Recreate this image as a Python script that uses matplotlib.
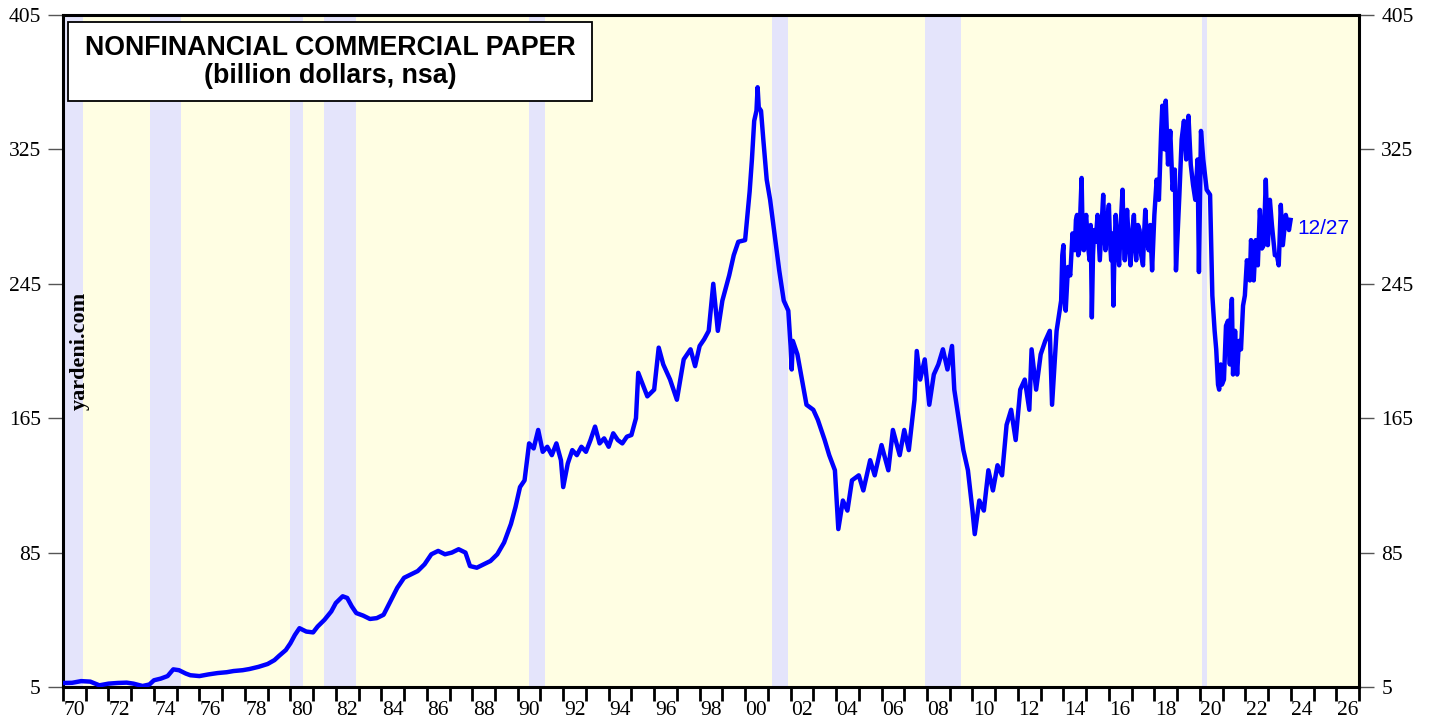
import numpy as np
import matplotlib.pyplot as plt
from matplotlib.patches import Rectangle

# nonfinancial commercial paper, billion dollars
years = [1970.05, 1970.4, 1970.8, 1971.2, 1971.6, 1972.0, 1972.4, 1972.8, 1973.1, 1973.5,
         1973.8, 1974.0, 1974.3, 1974.6, 1974.85, 1975.1, 1975.4, 1975.6, 1976.0, 1976.4,
         1976.8, 1977.2, 1977.5, 1977.9, 1978.2, 1978.6, 1979.0, 1979.3, 1979.5, 1979.8,
         1980.0, 1980.2, 1980.4, 1980.7, 1981.0, 1981.2, 1981.5, 1981.8, 1982.0, 1982.3,
         1982.5, 1982.7, 1982.9, 1983.2, 1983.5, 1983.8, 1984.1, 1984.4, 1984.7, 1985.0,
         1985.3, 1985.6, 1985.9, 1986.2, 1986.5, 1986.8, 1987.1, 1987.4, 1987.7, 1987.9,
         1988.2, 1988.5, 1988.8, 1989.1, 1989.4, 1989.7, 1989.9, 1990.1, 1990.3, 1990.5,
         1990.7, 1990.9, 1991.1, 1991.3, 1991.5, 1991.7, 1991.9, 1992.0, 1992.2, 1992.4,
         1992.6, 1992.8, 1993.0, 1993.2, 1993.4, 1993.6, 1993.8, 1994.0, 1994.2, 1994.4,
         1994.6, 1994.8, 1995.0, 1995.2, 1995.3, 1995.5, 1995.7, 1996.0, 1996.2, 1996.4,
         1996.7, 1997.0, 1997.3, 1997.6, 1997.8, 1998.0, 1998.2, 1998.4, 1998.6, 1998.8,
         1999.0, 1999.3, 1999.5, 1999.7, 2000.0, 2000.2, 2000.3, 2000.4, 2000.5, 2000.55,
         2000.6, 2000.7, 2000.8, 2000.95, 2001.1, 2001.3, 2001.5, 2001.7, 2001.9, 2002.0,
         2002.05, 2002.1, 2002.3, 2002.5, 2002.7, 2003.0, 2003.2, 2003.5, 2003.7, 2003.95,
         2004.1, 2004.3, 2004.5, 2004.7, 2005.0, 2005.2, 2005.5, 2005.7, 2006.0, 2006.3,
         2006.5, 2006.8, 2007.0, 2007.2, 2007.45, 2007.55, 2007.7, 2007.9, 2008.1, 2008.3,
         2008.5, 2008.7, 2008.9, 2009.1, 2009.2, 2009.4, 2009.6, 2009.8, 2010.0, 2010.1,
         2010.3, 2010.5, 2010.7, 2010.9, 2011.1, 2011.3, 2011.5, 2011.7, 2011.9, 2012.1,
         2012.3, 2012.5, 2012.6, 2012.8, 2013.0, 2013.2, 2013.4, 2013.5, 2013.7, 2013.9,
         2013.95, 2014.0, 2014.05, 2014.1, 2014.2, 2014.3, 2014.4, 2014.5, 2014.55, 2014.6,
         2014.65, 2014.7, 2014.75, 2014.8, 2014.85, 2014.9, 2014.95, 2015.0, 2015.08, 2015.15,
         2015.2, 2015.25, 2015.3, 2015.35, 2015.42, 2015.5, 2015.55, 2015.6, 2015.68, 2015.75,
         2015.8, 2015.85, 2015.92, 2016.0, 2016.05, 2016.1, 2016.15, 2016.2, 2016.25, 2016.3,
         2016.38, 2016.45, 2016.52, 2016.6, 2016.65, 2016.7, 2016.75, 2016.8, 2016.88, 2016.95,
         2017.02, 2017.1, 2017.15, 2017.2, 2017.28, 2017.35, 2017.42, 2017.5, 2017.55, 2017.6,
         2017.68, 2017.75, 2017.82, 2017.9, 2017.95, 2018.0, 2018.1, 2018.2, 2018.3, 2018.35,
         2018.45, 2018.5, 2018.6, 2018.7, 2018.8, 2018.9, 2018.95, 2019.1, 2019.2, 2019.3,
         2019.4, 2019.5, 2019.6, 2019.7, 2019.8, 2019.9, 2019.96, 2020.05, 2020.15, 2020.3,
         2020.45, 2020.55, 2020.65, 2020.72, 2020.8, 2020.85, 2020.92, 2020.97, 2021.06, 2021.15,
         2021.24, 2021.32, 2021.37, 2021.41, 2021.46, 2021.55, 2021.64, 2021.72, 2021.81, 2021.9,
         2021.98, 2022.07, 2022.2, 2022.25, 2022.33, 2022.37, 2022.46, 2022.55, 2022.64, 2022.73,
         2022.81, 2022.9, 2022.99, 2023.08, 2023.17, 2023.3, 2023.39, 2023.47, 2023.56, 2023.65,
         2023.78, 2023.92, 2023.99]
values = [7.4, 7.5, 8.5, 8.2, 6.0, 7.0, 7.4, 7.6, 7.0, 5.6,
          6.5, 9.0, 10.0, 11.5, 15.5, 15.0, 13.0, 12.0, 11.5, 12.5,
          13.3, 13.8, 14.5, 15.0, 15.7, 17.0, 18.7, 21.0, 23.5, 27.0,
          31.0, 36.0, 40.0, 38.0, 37.5, 41.0, 45.0, 50.0, 55.0, 59.0,
          58.0, 53.0, 49.0, 47.5, 45.5, 46.0, 48.0, 56.0, 64.0, 70.0,
          72.0, 74.0, 78.0, 84.0, 86.0, 84.0, 85.0, 87.0, 85.0, 77.0,
          76.0, 78.0, 80.0, 84.0, 91.0, 102.0, 112.0, 124.0, 128.0, 150.0,
          147.0, 158.0, 145.0, 148.0, 143.0, 150.0, 140.0, 124.0, 138.0, 146.0,
          143.0, 148.0, 145.0, 152.0, 160.0, 150.0, 153.0, 148.0, 156.0, 152.0,
          150.0, 154.0, 155.0, 165.0, 192.0, 185.0, 178.0, 182.0, 207.0, 197.0,
          188.0, 176.0, 200.0, 206.0, 196.0, 208.0, 212.0, 217.0, 245.0, 217.0,
          235.0, 250.0, 262.0, 270.0, 271.0, 300.0, 319.0, 342.0, 348.0, 362.0,
          350.0, 348.0, 331.0, 307.0, 295.0, 274.0, 253.0, 235.0, 229.0, 208.0,
          194.0, 211.0, 203.0, 188.0, 173.0, 170.0, 164.0, 152.0, 143.0, 134.0,
          99.0, 116.0, 110.0, 128.0, 131.0, 122.0, 140.0, 131.0, 149.0, 134.0,
          158.0, 143.0, 158.0, 146.0, 176.0, 205.0, 188.0, 200.0, 173.0, 191.0,
          197.0, 206.0, 194.0, 208.0, 182.0, 164.0, 146.0, 134.0, 110.0, 96.0,
          116.0, 110.0, 134.0, 122.0, 137.0, 131.0, 161.0, 170.0, 152.0, 182.0,
          188.0, 170.0, 206.0, 182.0, 203.0, 211.0, 217.0, 173.0, 217.0, 235.0,
          262.0, 268.0, 240.0, 229.0, 255.0, 250.0, 275.0, 265.0, 283.0, 286.0,
          262.0, 265.0, 290.0, 308.0, 270.0, 265.0, 280.0, 286.0, 268.0, 259.0,
          280.0, 225.0, 262.0, 277.0, 270.0, 286.0, 272.0, 259.0, 280.0, 298.0,
          275.0, 265.0, 282.0, 292.0, 270.0, 259.0, 275.0, 232.0, 268.0, 286.0,
          265.0, 256.0, 280.0, 301.0, 272.0, 259.0, 275.0, 289.0, 268.0, 256.0,
          275.0, 286.0, 268.0, 259.0, 280.0, 277.0, 262.0, 256.0, 275.0, 289.0,
          270.0, 265.0, 280.0, 253.0, 270.0, 286.0, 307.0, 295.0, 336.0, 351.0,
          325.0, 354.0, 316.0, 336.0, 301.0, 313.0, 253.0, 298.0, 331.0, 342.0,
          319.0, 345.0, 316.0, 304.0, 295.0, 319.0, 252.0, 336.0, 319.0, 301.0,
          298.0, 238.0, 217.0, 206.0, 185.0, 182.0, 197.0, 185.0, 188.0, 220.0,
          223.0, 197.0, 229.0, 236.0, 191.0, 217.0, 191.0, 211.0, 206.0, 232.0,
          238.0, 259.0, 247.0, 271.0, 262.0, 247.0, 271.0, 256.0, 289.0, 266.0,
          268.0, 307.0, 268.0, 295.0, 280.0, 262.0, 262.0, 256.0, 292.0, 268.0,
          286.0, 277.0, 283.0]

# NBER recessions (start, end)
rec_start = [1969.92, 1973.83, 1980.0, 1981.5, 1990.5, 2001.17, 2007.92, 2020.1]
rec_end = [1970.87, 1975.2, 1980.55, 1982.87, 1991.2, 2001.87, 2009.5, 2020.3]

yticks = [5, 85, 165, 245, 325, 405]
year_labels = [str(y % 100).zfill(2) for y in range(1970, 2027, 2)]

fig = plt.figure(figsize=(14.29, 7.19), dpi=100)
ax = fig.add_axes([63/1429, 32/719, 1296/1429, 672/719])
ax.set_facecolor('#fffee3')
ax.set_xlim(1970, 2027)
ax.set_ylim(5, 405)

for s, e in zip(rec_start, rec_end):
    ax.axvspan(s, e, color='#e4e4fb', lw=0, zorder=0)

ax.plot(years, values, color='#0000ff', lw=3.2, solid_joinstyle='round', zorder=3)

for sp in ax.spines.values():
    sp.set_linewidth(2.2)

serif = 'Liberation Serif'
ax.set_xticks(np.arange(1970, 2028, 1))
ax.set_xticklabels([])
ax.set_xticks(np.arange(1970.5, 2027, 2), minor=True)
ax.set_xticklabels(year_labels, minor=True, fontfamily=serif, fontsize=15.5)
ax.tick_params(axis='x', which='major', direction='out', length=10, width=2, color='black')
ax.tick_params(axis='x', which='minor', length=0, pad=10)

ax.set_yticks(yticks)
ax.set_yticklabels([str(v) for v in yticks], fontfamily=serif, fontsize=15.5)
ax.tick_params(axis='y', which='both', direction='out', length=11, width=1,
               color='#555555', left=True, right=True, labelleft=True,
               labelright=True, pad=5)

# title box
ax.add_patch(Rectangle((0.004, 0.872), 0.404, 0.117, transform=ax.transAxes,
                       facecolor='white', edgecolor='black', lw=1.3, zorder=5))
ax.text(0.206, 0.951, 'NONFINANCIAL COMMERCIAL PAPER', transform=ax.transAxes,
        ha='center', va='center', fontsize=19.3, fontweight='bold',
        fontfamily='Liberation Sans', zorder=6)
ax.text(0.206, 0.909, '(billion dollars, nsa)', transform=ax.transAxes,
        ha='center', va='center', fontsize=19.3, fontweight='bold',
        fontfamily='Liberation Sans', zorder=6)

ax.text(0.0132, 0.5, 'yardeni.com', transform=ax.transAxes, rotation=90,
        ha='center', va='center', fontsize=16, fontweight='bold',
        fontfamily=serif, zorder=6)

ax.text(2024.3, values[-1] - 5, '12/27', color='#0000ff', fontsize=15,
        fontfamily='Liberation Sans', ha='left', va='center', zorder=6)

fig.savefig('out.png', dpi=100)
